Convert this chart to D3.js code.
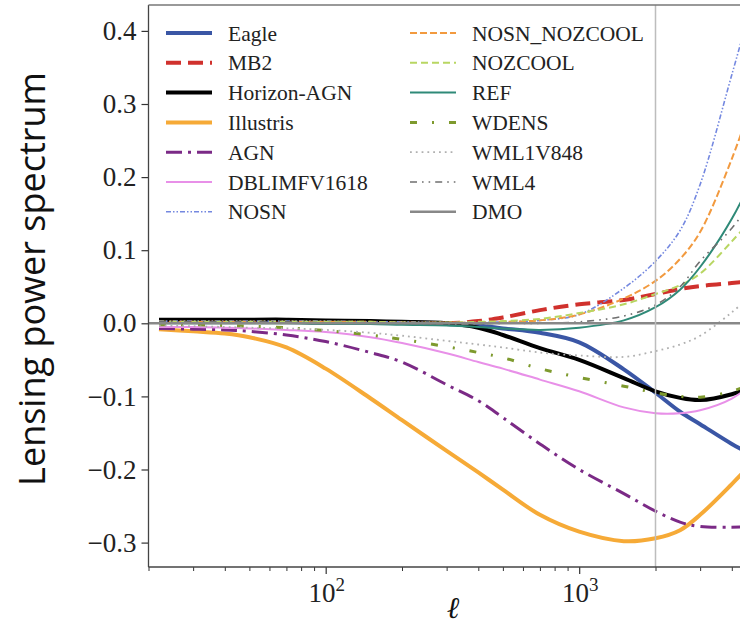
<!DOCTYPE html>
<html><head><meta charset="utf-8">
<script src="https://cdn.jsdelivr.net/npm/d3@7"></script>
<style>html,body{margin:0;padding:0;background:#fff;overflow:hidden}
.serif{font-family:"Liberation Serif","DejaVu Serif","Noto Serif",serif}</style>
</head><body>
<svg id="chart" width="740" height="631"></svg>
<script>
// ---- data ----
const ell = [22, 30, 40, 50, 70, 100, 150, 200, 300, 400, 500, 700, 1000, 1500, 2000, 2500, 3000, 4000, 5000];
const eagle      = [0.003, 0.003, 0.003, 0.003, 0.003, 0.003, 0.002, 0.001, -0.001, -0.003, -0.007, -0.013, -0.026, -0.063, -0.095, -0.121, -0.138, -0.165, -0.183];
const mb2        = [0.002, 0.002, 0.002, 0.002, 0.002, 0.002, 0.002, 0.001, 0.0, 0.003, 0.008, 0.018, 0.026, 0.032, 0.040, 0.047, 0.051, 0.055, 0.058];
const horizonAGN = [0.005, 0.005, 0.005, 0.005, 0.005, 0.004, 0.003, 0.002, 0.0, -0.006, -0.016, -0.034, -0.050, -0.075, -0.093, -0.102, -0.105, -0.097, -0.085];
const illustris  = [-0.008, -0.011, -0.014, -0.019, -0.033, -0.062, -0.1025, -0.1325, -0.1745, -0.204, -0.2275, -0.262, -0.285, -0.298, -0.294, -0.283, -0.262, -0.220, -0.185];
const agn        = [-0.007, -0.008, -0.009, -0.011, -0.016, -0.025, -0.040, -0.053, -0.084, -0.106, -0.129, -0.165, -0.200, -0.233, -0.257, -0.272, -0.278, -0.279, -0.278];
const dblimfv    = [-0.005, -0.005, -0.006, -0.007, -0.009, -0.012, -0.019, -0.027, -0.041, -0.053, -0.062, -0.077, -0.093, -0.115, -0.123, -0.123, -0.119, -0.103, -0.078];
const nosn       = [0.003, 0.003, 0.003, 0.003, 0.003, 0.003, 0.002, 0.002, 0.001, 0.001, 0.002, 0.004, 0.012, 0.048, 0.085, 0.127, 0.190, 0.340, 0.460];
const nosnNozcool= [0.002, 0.002, 0.002, 0.002, 0.002, 0.002, 0.002, 0.001, 0.001, 0.001, 0.002, 0.004, 0.012, 0.034, 0.058, 0.088, 0.125, 0.225, 0.320];
const nozcool    = [0.002, 0.002, 0.002, 0.002, 0.002, 0.002, 0.002, 0.001, 0.001, 0.002, 0.003, 0.006, 0.014, 0.026, 0.040, 0.052, 0.068, 0.112, 0.150];
const ref        = [0.0, 0.0, 0.0, 0.0, 0.0, -0.001, -0.001, -0.002, -0.003, -0.005, -0.007, -0.009, -0.006, 0.004, 0.022, 0.046, 0.077, 0.143, 0.210];
const wdens      = [-0.002, -0.002, -0.003, -0.004, -0.006, -0.010, -0.016, -0.022, -0.032, -0.040, -0.047, -0.062, -0.074, -0.086, -0.095, -0.100, -0.101, -0.093, -0.080];
const wml1v848   = [-0.003, -0.004, -0.005, -0.006, -0.007, -0.009, -0.013, -0.017, -0.024, -0.029, -0.033, -0.040, -0.044, -0.046, -0.038, -0.029, -0.017, 0.015, 0.045];
const wml4       = [0.002, 0.002, 0.002, 0.002, 0.002, 0.001, 0.001, 0.0, -0.001, -0.001, 0.0, 0.0, 0.002, 0.010, 0.025, 0.050, 0.085, 0.130, 0.175];
const dmo        = [0, 0, 0, 0, 0, 0, 0, 0, 0, 0, 0, 0, 0, 0, 0, 0, 0, 0, 0];

const seriesNames = ["Eagle","MB2","Horizon-AGN","Illustris","AGN","DBLIMFV1618","NOSN",
                     "NOSN_NOZCOOL","NOZCOOL","REF","WDENS","WML1V848","WML4","DMO"];
const seriesValues = [eagle, mb2, horizonAGN, illustris, agn, dblimfv, nosn,
                      nosnNozcool, nozcool, ref, wdens, wml1v848, wml4, dmo];
const yTicks = [-0.3, -0.2, -0.1, 0.0, 0.1, 0.2, 0.3, 0.4];
const xMajorTicks = [100, 1000];
const xMajorExp = ["2", "3"];
const xMinorTicks = [20,30,40,50,60,70,80,90,200,300,400,500,600,700,800,900,2000,3000,4000,5000];
const vline = 2000;

// ---- styles ----
const styles = {
  "Eagle":        {c:"#3a56a5", w:4,   d:null},
  "MB2":          {c:"#d0312d", w:4,   d:"15,7"},
  "Horizon-AGN":  {c:"#000000", w:4,   d:null},
  "Illustris":    {c:"#f6aa37", w:4,   d:null},
  "AGN":          {c:"#7b2a86", w:3,   d:"16,6,3,6"},
  "DBLIMFV1618":  {c:"#e890e8", w:2,   d:null},
  "NOSN":         {c:"#7488e0", w:1.6, d:"5,2,1.5,2,1.5,2"},
  "NOSN_NOZCOOL": {c:"#f29a3f", w:2,   d:"7,3"},
  "NOZCOOL":      {c:"#b8d662", w:2,   d:"7,4"},
  "REF":          {c:"#2f8a78", w:2,   d:null},
  "WDENS":        {c:"#7e9a2e", w:3,   d:"7,15,2,15"},
  "WML1V848":     {c:"#b0b0b0", w:1.8, d:"1.8,4"},
  "WML4":         {c:"#6f6f6f", w:1.6, d:"7,5,1.6,5,1.6,5"},
  "DMO":          {c:"#888888", w:2.5, d:null}
};

(function draw() {
const svg = d3.select("#chart");
const pLeft = 148.5, pTop = 5, pBottom = 567;
const x = d3.scaleLog().domain([20, 5000]).range([pLeft, pLeft + Math.log10(250) * 253.5]);
const y = d3.scaleLinear().domain([0, 0.4]).range([323.3, 323.3 - 0.4 * 731]);

svg.append("defs").append("clipPath").attr("id","clip")
  .append("rect").attr("x", pLeft).attr("y", pTop).attr("width", 800).attr("height", pBottom - pTop);

// curves
const plot = svg.append("g").attr("clip-path","url(#clip)");
const line = d3.line().x(d => x(d[0])).y(d => y(d[1])).curve(d3.curveCatmullRom.alpha(0.5));
seriesNames.forEach((name, i) => {
  const s = styles[name];
  const pts = ell.map((l, j) => [l, seriesValues[i][j]]);
  const data = name === "DMO" ? [[20, 0], [5000, 0]] : pts;
  plot.append("path").datum(data).attr("d", line)
    .attr("fill","none").attr("stroke", s.c).attr("stroke-width", s.w)
    .attr("stroke-dasharray", s.d).attr("stroke-linecap", "butt").attr("stroke-linejoin","round");
});
// vertical line at ell = 2000
plot.append("line").attr("x1", x(vline)).attr("x2", x(vline)).attr("y1", pTop).attr("y2", pBottom)
  .attr("stroke","#bdbdbd").attr("stroke-width",1.5);

// axes
const yAxis = d3.axisLeft(y).tickValues(yTicks).tickSize(7).tickPadding(5)
  .tickFormat(d => d3.format(".1f")(d).replace("-", "\u2212"));
const gy = svg.append("g").attr("transform", `translate(${pLeft},0)`).call(yAxis)
  .attr("font-family", null).attr("font-size", null);
gy.select(".domain").remove();
gy.selectAll("line").attr("stroke","#333").attr("stroke-width",1.2);
gy.selectAll("text").attr("class","serif").style("font-size","27px").attr("fill","#222");

const xAxisMinor = d3.axisBottom(x).tickValues(xMinorTicks).tickSize(4).tickFormat("");
const gxm = svg.append("g").attr("transform", `translate(0,${pBottom})`).call(xAxisMinor);
gxm.select(".domain").remove();
gxm.selectAll("line").attr("stroke","#333").attr("stroke-width",1);
const xAxis = d3.axisBottom(x).tickValues(xMajorTicks).tickSize(7).tickFormat("");
const gx = svg.append("g").attr("transform", `translate(0,${pBottom})`).call(xAxis);
gx.select(".domain").remove();
gx.selectAll("line").attr("stroke","#333").attr("stroke-width",1.2);
xMajorTicks.forEach((t, i) => {
  const tx = svg.append("text").attr("class","serif").attr("x", x(t) + 1).attr("y", 602)
    .attr("text-anchor","middle").style("font-size","27px").attr("fill","#222");
  tx.append("tspan").text("10");
  tx.append("tspan").attr("dy", -11).style("font-size","19px").text(xMajorExp[i]);
});

// spines
svg.append("line").attr("x1", pLeft).attr("x2", pLeft).attr("y1", pTop).attr("y2", pBottom)
  .attr("stroke","#444").attr("stroke-width",1.3);
svg.append("line").attr("x1", pLeft).attr("x2", 740).attr("y1", pBottom).attr("y2", pBottom)
  .attr("stroke","#444").attr("stroke-width",1.3);
svg.append("line").attr("x1", pLeft).attr("x2", 740).attr("y1", pTop).attr("y2", pTop)
  .attr("stroke","#777").attr("stroke-width",1.3);

// axis labels
svg.append("text").attr("transform", "translate(45,279) rotate(-90)").attr("text-anchor","middle")
  .style("font-family","'Open Sans',sans-serif").style("font-size","36px").attr("fill","#111")
  .text("Lensing power spectrum");
svg.append("text").attr("class","serif").attr("x", 453).attr("y", 618).attr("text-anchor","middle")
  .style("font-style","italic").style("font-size","30px").attr("fill","#111")
  .text("\u2113");

// legend
const leg = svg.append("g");
seriesNames.forEach((name, i) => {
  const col = i < 7 ? 0 : 1, row = i % 7;
  const hx = col === 0 ? 166 : 410, tx0 = col === 0 ? 228 : 472;
  const cy = 33 + row * 29.8;
  const s = styles[name];
  leg.append("line").attr("x1", hx).attr("x2", hx + 46).attr("y1", cy).attr("y2", cy)
    .attr("stroke", s.c).attr("stroke-width", s.w).attr("stroke-dasharray", s.d);
  leg.append("text").attr("class","serif").attr("x", tx0).attr("y", cy + 7.5)
    .style("font-size","21.5px").attr("fill","#222").text(name);
});
})();
</script>
</body></html>
